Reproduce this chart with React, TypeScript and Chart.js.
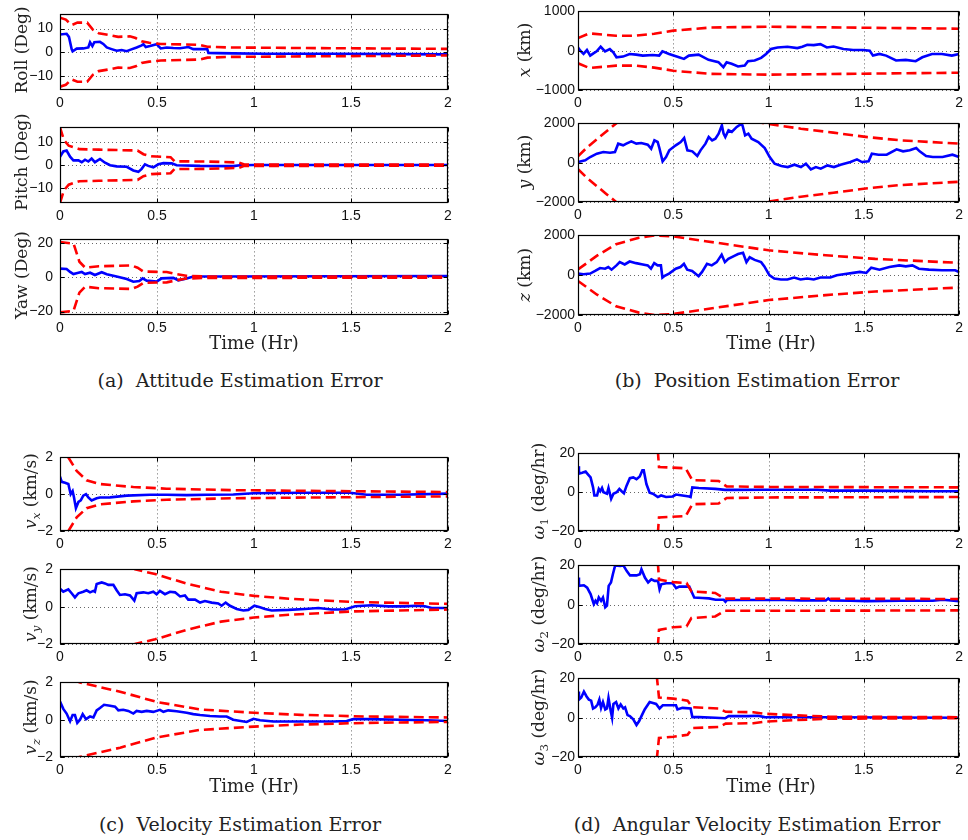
import React, { useEffect, useRef } from 'react';
import { Chart, registerables } from 'chart.js';

Chart.register(...registerables);

type Pt = [number, number];

// ---------------- data ----------------
const timeTicks = [0, 0.5, 1, 1.5, 2];
const rollTicks = [-10, 0, 10];
const yawTicks = [-20, 0, 20];
const posXTicks = [-1000, 0, 1000];
const posYZTicks = [-2000, 0, 2000];
const velTicks = [-2, 0, 2];
const omegaTicks = [-20, 0, 20];

// (a) attitude error [t (hr), deg] and 3-sigma bound
const rollErr: Pt[] = [[0,7.5],[0.034,7.8],[0.046,6.5],[0.06,1.3],[0.065,0.4],[0.086,1.5],[0.12,1.6],[0.146,2],[0.155,4.2],[0.167,2.6],[0.177,4.2],[0.206,4.4],[0.223,3.5],[0.241,2],[0.266,1.3],[0.292,0.6],[0.318,0.9],[0.344,0.4],[0.361,1],[0.395,2],[0.421,2.9],[0.43,3.4],[0.442,2.2],[0.464,2.6],[0.498,3.4],[0.519,1.6],[0.55,2],[0.584,1.8],[0.619,1.7],[0.662,2.2],[0.687,1.3],[0.73,1.3],[0.759,1.3],[0.765,-0.3],[0.808,-0.4],[0.893,-0.5],[1.065,-0.65],[1.409,-0.65],[1.753,-0.8],[2,-0.9]];
const rollSig: Pt[] = [[0,14.6],[0.03,13.8],[0.06,11.5],[0.09,12.5],[0.14,12.5],[0.17,9.5],[0.2,8],[0.25,7.3],[0.3,6.5],[0.36,6.7],[0.39,6],[0.42,4.6],[0.46,4],[0.52,3.5],[0.72,3.1],[0.76,2.3],[0.88,2],[1.2,1.8],[2,1.4]];
const pitchErr: Pt[] = [[0,3.7],[0.017,6],[0.034,6.4],[0.052,3.7],[0.069,2.1],[0.095,2.1],[0.112,1.3],[0.129,2.4],[0.146,1.6],[0.163,2.9],[0.18,1.3],[0.206,2.7],[0.232,1.1],[0.258,0],[0.292,-0.5],[0.344,-0.7],[0.378,-2.3],[0.404,-2.9],[0.421,-1.6],[0.438,0.4],[0.455,-0.3],[0.481,-0.9],[0.507,0.4],[0.533,0.9],[0.576,0.8],[0.601,0],[0.722,-0.3],[0.893,-0.4],[0.928,0],[1,0.1],[2,0.1]];
const pitchSig: Pt[] = [[0,16.5],[0.02,11],[0.045,8.5],[0.1,7],[0.2,6.8],[0.3,6.6],[0.4,6.4],[0.43,4.8],[0.47,3.9],[0.57,3.5],[0.59,1.7],[0.75,1.6],[0.92,1.2],[0.95,0.3],[2,0.25]];
const yawErr: Pt[] = [[0,5],[0.034,4.8],[0.052,3.1],[0.069,1.8],[0.095,2.6],[0.112,3.1],[0.129,1.8],[0.155,2.6],[0.18,1.3],[0.215,2.9],[0.241,1.7],[0.292,0.4],[0.344,-1.1],[0.378,-2.6],[0.409,-2.2],[0.426,-0.7],[0.447,-2],[0.498,-2.6],[0.524,-0.7],[0.584,-0.4],[0.61,-1.8],[0.653,-0.7],[0.687,0.4],[0.808,0.4],[2,0.7]];
const yawSig: Pt[] = [[0,20.5],[0.07,19.5],[0.1,9],[0.13,5.5],[0.2,6.4],[0.37,6.8],[0.4,5.5],[0.43,3.3],[0.55,3],[0.6,1.8],[0.65,0.8],[0.75,0.4],[2,0.3]];

// (b) position error [t, km]
const posXErr: Pt[] = [[0,83],[0.012,0],[0.029,-83],[0.047,17],[0.064,-125],[0.081,-67],[0.098,-17],[0.119,100],[0.142,-17],[0.167,42],[0.185,-42],[0.202,-167],[0.236,-150],[0.271,-83],[0.305,-100],[0.34,-125],[0.392,-108],[0.426,-125],[0.443,-17],[0.478,-83],[0.53,-167],[0.556,-208],[0.582,-125],[0.633,-100],[0.685,-233],[0.737,-292],[0.763,-417],[0.78,-292],[0.806,-333],[0.84,-400],[0.875,-375],[0.892,-267],[0.927,-250],[0.961,-183],[0.987,-83],[1.013,42],[1.047,83],[1.099,100],[1.151,67],[1.177,100],[1.203,150],[1.237,142],[1.272,167],[1.306,83],[1.341,108],[1.393,42],[1.444,17],[1.496,17],[1.531,0],[1.548,-125],[1.582,-83],[1.617,-125],[1.669,-250],[1.72,-233],[1.772,-267],[1.807,-167],[1.858,-83],[1.91,-83],[1.962,-125],[2,-83]];
const posXSig: Pt[] = [[0,320],[0.06,440],[0.2,380],[0.3,380],[0.4,430],[0.5,510],[0.7,590],[1.0,610],[1.4,590],[2,560]];
const posYErr: Pt[] = [[0,34],[0.038,119],[0.064,289],[0.099,459],[0.133,544],[0.168,510],[0.194,544],[0.211,969],[0.237,884],[0.254,969],[0.28,1088],[0.306,969],[0.332,1003],[0.366,918],[0.384,714],[0.401,1139],[0.418,1054],[0.427,748],[0.444,68],[0.462,289],[0.479,629],[0.513,884],[0.539,1054],[0.557,1258],[0.574,629],[0.6,578],[0.626,340],[0.643,629],[0.669,969],[0.686,1309],[0.704,1139],[0.721,1224],[0.738,1479],[0.755,1904],[0.764,1479],[0.773,1309],[0.79,1649],[0.807,1564],[0.833,1819],[0.851,1938],[0.863,1904],[0.877,1394],[0.894,1479],[0.911,1224],[0.946,1054],[0.98,748],[1.006,289],[1.032,-51],[1.067,-170],[1.101,-221],[1.136,-102],[1.17,-221],[1.196,-51],[1.222,-340],[1.248,-221],[1.274,-306],[1.309,-136],[1.343,-221],[1.378,-102],[1.43,34],[1.464,170],[1.49,34],[1.525,68],[1.542,459],[1.577,408],[1.62,408],[1.672,680],[1.706,578],[1.741,629],[1.775,748],[1.793,578],[1.827,340],[1.862,289],[1.913,289],[1.965,408],[2,289]];
const posYSig: Pt[] = [[0,330],[0.05,800],[0.1,1200],[0.15,1600],[0.2,2000],[0.3,2700],[0.5,3000],[0.75,2500],[0.98,2000],[1.17,1730],[1.34,1530],[1.52,1300],[1.69,1140],[2,970]];
const posZErr: Pt[] = [[0,82],[0.029,49],[0.064,82],[0.09,213],[0.116,360],[0.142,328],[0.159,410],[0.176,279],[0.202,492],[0.219,656],[0.245,541],[0.271,688],[0.305,606],[0.34,541],[0.366,492],[0.383,328],[0.4,606],[0.418,492],[0.435,492],[0.443,-115],[0.452,-49],[0.478,82],[0.513,328],[0.538,410],[0.556,574],[0.573,279],[0.599,213],[0.633,-49],[0.651,164],[0.677,574],[0.702,492],[0.728,656],[0.754,1033],[0.771,656],[0.789,820],[0.823,984],[0.84,1066],[0.866,1131],[0.884,656],[0.901,902],[0.927,770],[0.961,656],[0.978,443],[1.004,0],[1.03,-164],[1.065,-213],[1.099,-213],[1.134,-115],[1.168,-213],[1.203,-164],[1.237,-213],[1.272,-115],[1.324,-115],[1.358,0],[1.393,49],[1.444,115],[1.479,164],[1.513,115],[1.539,377],[1.582,279],[1.634,410],[1.686,492],[1.72,443],[1.755,492],[1.789,328],[1.841,279],[1.91,246],[1.979,246],[2,164]];
const posZSig: Pt[] = [[0,290],[0.1,980],[0.2,1560],[0.32,1880],[0.4,2000],[0.5,1950],[0.67,1710],[1.0,1250],[1.3,1000],[1.56,820],[2,620]];

// (c) velocity error [t, km/s]
const velXErr: Pt[] = [[0,0.96],[0.009,0.67],[0.026,0.62],[0.043,0.55],[0.055,0],[0.065,0.17],[0.072,-0.17],[0.082,-0.76],[0.095,-0.42],[0.107,-0.34],[0.12,-0.08],[0.134,0],[0.146,-0.17],[0.163,-0.34],[0.189,-0.22],[0.206,-0.18],[0.258,-0.17],[0.344,-0.08],[0.464,-0.03],[0.55,-0.03],[0.653,-0.05],[0.756,-0.03],[0.893,-0.02],[0.997,0.05],[1.237,0.08],[1.495,0.08],[1.581,-0.03],[1.753,-0.03],[2,0.03]];
const velXSig: Pt[] = [[0,3.6],[0.043,2.0],[0.086,1.26],[0.137,0.76],[0.206,0.55],[0.378,0.39],[0.55,0.3],[0.89,0.22],[1.4,0.17],[2,0.12]];
const velYErr: Pt[] = [[0,0.97],[0.017,0.8],[0.043,0.93],[0.06,0.72],[0.077,0.5],[0.095,0.72],[0.12,0.8],[0.137,0.88],[0.155,0.77],[0.172,0.85],[0.18,0.8],[0.189,1.22],[0.215,1.3],[0.232,1.25],[0.249,1.17],[0.275,1.17],[0.292,0.88],[0.309,0.63],[0.335,0.67],[0.361,0.6],[0.383,0.33],[0.395,0.72],[0.43,0.77],[0.455,0.72],[0.481,0.8],[0.498,0.67],[0.515,0.85],[0.541,0.67],[0.567,0.8],[0.593,0.77],[0.619,0.55],[0.644,0.6],[0.661,0.38],[0.696,0.38],[0.722,0.22],[0.747,0.3],[0.782,0.22],[0.816,0.17],[0.833,0.05],[0.854,0.22],[0.876,0.05],[0.911,-0.12],[0.945,-0.2],[0.971,-0.17],[1.002,0.05],[1.031,-0.03],[1.057,-0.12],[1.091,-0.2],[1.177,-0.17],[1.263,-0.12],[1.332,-0.07],[1.4,-0.15],[1.469,-0.15],[1.521,0.02],[1.607,0.08],[1.692,0.02],[1.778,0.02],[1.83,0.05],[1.881,0.02],[1.916,-0.07],[2,-0.07]];
const velYSig: Pt[] = [[0,6],[0.2,3.2],[0.387,2.0],[0.49,1.75],[0.66,1.22],[0.83,0.8],[1.0,0.58],[1.18,0.43],[1.52,0.25],[2,0.15]];
const velZErr: Pt[] = [[0,0.97],[0.017,0.58],[0.034,0.33],[0.052,-0.08],[0.065,0.25],[0.077,0.25],[0.089,-0.17],[0.103,0],[0.117,0.3],[0.134,0.03],[0.155,0.17],[0.172,0.12],[0.189,0.5],[0.206,0.63],[0.227,0.8],[0.258,0.75],[0.284,0.7],[0.301,0.5],[0.326,0.53],[0.352,0.47],[0.378,0.33],[0.395,0.47],[0.421,0.42],[0.447,0.47],[0.481,0.42],[0.515,0.53],[0.533,0.42],[0.558,0.5],[0.601,0.45],[0.653,0.37],[0.687,0.3],[0.722,0.25],[0.773,0.2],[0.825,0.17],[0.859,0.17],[0.893,0],[0.962,-0.12],[0.997,0.05],[1.031,-0.03],[1.1,-0.1],[1.237,-0.1],[1.409,-0.1],[1.478,-0.07],[1.512,0.03],[1.581,0.03],[1.753,0],[1.89,-0.03],[2,-0.07]];
const velZSig: Pt[] = [[0,2.6],[0.1,2.0],[0.31,1.5],[0.5,0.95],[0.72,0.55],[1.0,0.37],[1.24,0.26],[1.58,0.17],[2,0.12]];

// (d) angular velocity error [t, deg/hr]
const omega1Err: Pt[] = [[0,13.4],[0.005,9.6],[0.022,10],[0.04,10.6],[0.052,9.2],[0.066,7.6],[0.079,2.5],[0.086,-1.7],[0.1,-1.7],[0.109,1.7],[0.117,0.5],[0.126,2.2],[0.134,0],[0.152,-0.8],[0.16,2.2],[0.174,-3.4],[0.186,-0.8],[0.203,0],[0.217,1.7],[0.229,0.5],[0.241,-0.5],[0.255,3.4],[0.272,7.2],[0.29,7.6],[0.307,6.7],[0.324,8.1],[0.338,11.3],[0.345,11.3],[0.359,4.2],[0.376,-0.3],[0.393,-0.8],[0.419,-2.5],[0.436,-1.7],[0.462,-2.5],[0.497,-2.2],[0.514,-1.2],[0.548,-1.7],[0.583,-2.2],[0.591,-2.5],[0.6,2.5],[0.634,2.2],[0.721,1.7],[0.772,1.2],[0.807,1.2],[0.979,1.3],[1.152,1.3],[1.255,1.3],[1.324,0.8],[1.497,0.8],[1.669,0.7],[1.841,0.5],[2,0.5]];
const omega1Sig: Pt[] = [[0.419,21.5],[0.425,13],[0.565,12.3],[0.6,6.2],[0.738,5.8],[0.78,3],[1.0,2.7],[2,2.5]];
const omega2Err: Pt[] = [[0,13.8],[0.005,9.6],[0.031,9.9],[0.048,8.7],[0.066,5.4],[0.083,0.3],[0.092,2],[0.1,0.8],[0.109,3.7],[0.121,2],[0.131,3.7],[0.143,-1.3],[0.152,-0.5],[0.161,9.6],[0.173,11.3],[0.183,15.5],[0.195,20],[0.221,19.7],[0.238,20],[0.256,17.1],[0.273,14.9],[0.307,14.9],[0.325,15.5],[0.333,18],[0.351,13.8],[0.368,11.3],[0.385,12.9],[0.402,12.1],[0.42,12.1],[0.428,7.9],[0.437,10.4],[0.463,10.9],[0.497,10.9],[0.515,8.4],[0.532,9.2],[0.584,9.2],[0.598,6.2],[0.61,3.7],[0.653,3.4],[0.687,3.2],[0.722,2.5],[0.765,2.5],[0.774,1.5],[0.782,2.4],[0.912,2.4],[1.085,2.4],[1.171,2.2],[1.301,2.2],[1.313,3.2],[1.326,2.2],[1.43,2],[1.516,1.8],[1.689,2],[1.862,2],[1.914,2.5],[2,1.8]];
const omega2Sig: Pt[] = [[0.419,21.5],[0.425,12.8],[0.5,11.5],[0.57,11],[0.595,6.8],[0.72,6],[0.77,3.1],[1.0,3.1],[2,2.9]];
const omega3Err: Pt[] = [[0,13.3],[0.005,9.2],[0.017,10.3],[0.031,13.3],[0.045,10.8],[0.057,9.2],[0.069,8.7],[0.079,4.7],[0.091,5.3],[0.103,6.7],[0.112,9.2],[0.121,5],[0.131,8],[0.143,4.2],[0.152,4.7],[0.16,10],[0.172,3.3],[0.179,0],[0.186,7],[0.2,8],[0.212,4.7],[0.224,6.7],[0.238,4.7],[0.247,5.3],[0.26,1.3],[0.272,0.8],[0.29,-0.8],[0.307,-3.7],[0.321,-1.7],[0.333,0.8],[0.35,4.2],[0.376,8],[0.393,7.5],[0.41,7],[0.428,4.7],[0.445,6.3],[0.479,6.3],[0.514,6.3],[0.522,4.2],[0.548,5],[0.591,4.7],[0.6,0.3],[0.634,0.3],[0.721,0],[0.772,-0.3],[0.79,0.8],[0.893,0.8],[0.945,1],[0.979,0.3],[1.152,0.2],[1.324,0.2],[2,0]];
const omega3Sig: Pt[] = [[0.413,21.5],[0.425,10.3],[0.5,9.7],[0.575,8.7],[0.6,5.3],[0.74,4.7],[0.775,3],[0.92,2.8],[0.98,2],[1.15,1.2],[1.32,0.5],[2,0.25]];

// ---------------- layout / styling ----------------
const SANS = '"Liberation Sans", Arial, Helvetica, sans-serif';
const SERIF = '"DejaVu Serif", "Liberation Serif", serif';
const RED = '#ff0000';
const BLUE = '#0000ff';
const Y_AXIS_W = 58;
const TOP_PAD = 10;
const X_AXIS_H = 24;

interface Spec {
  err: Pt[];
  sig: Pt[];
  yMin: number;
  yMax: number;
  yTicks: number[];
  left: number;
  top: number;
  width: number;
  height: number;
  yPad: number;
  rightPad: number;
}

const fmt = (v: number) => (v < 0 ? '\u2212' + String(Math.abs(v)) : String(v));
const toXY = (pts: Pt[], sign = 1) => pts.map(([x, y]) => ({ x, y: sign * y }));

const framePlugin = {
  id: 'matlabFrame',
  beforeDatasetsDraw(chart: any) {
    const { ctx, chartArea: a, scales } = chart;
    const xs = scales.x;
    const ys = scales.y;
    ctx.save();
    ctx.strokeStyle = 'rgba(0,0,0,0.6)';
    ctx.lineWidth = 1;
    ctx.setLineDash([1, 3]);
    xs.ticks.forEach((t: any) => {
      const px = Math.round(xs.getPixelForValue(t.value)) + 0.5;
      ctx.beginPath();
      ctx.moveTo(px, a.top);
      ctx.lineTo(px, a.bottom);
      ctx.stroke();
    });
    ys.ticks.forEach((t: any) => {
      const py = Math.round(ys.getPixelForValue(t.value)) + 0.5;
      ctx.beginPath();
      ctx.moveTo(a.left, py);
      ctx.lineTo(a.right, py);
      ctx.stroke();
    });
    ctx.restore();
  },
  afterDatasetsDraw(chart: any) {
    const { ctx, chartArea: a, scales } = chart;
    const xs = scales.x;
    const ys = scales.y;
    const l = Math.round(a.left) + 0.5;
    const r = Math.round(a.right) - 0.5;
    const t = Math.round(a.top) + 0.5;
    const b = Math.round(a.bottom) - 0.5;
    ctx.save();
    ctx.setLineDash([]);
    ctx.strokeStyle = '#000';
    ctx.lineWidth = 1.2;
    ctx.strokeRect(l, t, r - l, b - t);
    ctx.lineWidth = 1;
    const len = 4;
    xs.ticks.forEach((tk: any) => {
      const px = Math.round(xs.getPixelForValue(tk.value)) + 0.5;
      ctx.beginPath();
      ctx.moveTo(px, b);
      ctx.lineTo(px, b - len);
      ctx.moveTo(px, t);
      ctx.lineTo(px, t + len);
      ctx.stroke();
    });
    ys.ticks.forEach((tk: any) => {
      const py = Math.round(ys.getPixelForValue(tk.value)) + 0.5;
      ctx.beginPath();
      ctx.moveTo(l, py);
      ctx.lineTo(l + len, py);
      ctx.moveTo(r, py);
      ctx.lineTo(r - len, py);
      ctx.stroke();
    });
    ctx.restore();
  },
};

function SubPlot({ spec }: { spec: Spec }) {
  const ref = useRef<HTMLCanvasElement>(null);
  const cw = Y_AXIS_W + spec.width + spec.rightPad;
  const ch = TOP_PAD + spec.height + X_AXIS_H;
  useEffect(() => {
    const canvas = ref.current;
    if (!canvas) return;
    const bound = {
      borderColor: RED,
      borderWidth: 2.6,
      borderDash: [10, 5],
      pointRadius: 0,
      fill: false,
      tension: 0,
    };
    const chart = new Chart(canvas, {
      type: 'line',
      data: {
        datasets: [
          { ...bound, data: toXY(spec.sig) },
          { ...bound, data: toXY(spec.sig, -1) },
          {
            data: toXY(spec.err),
            borderColor: BLUE,
            borderWidth: 2.6,
            pointRadius: 0,
            fill: false,
            tension: 0,
          },
        ],
      },
      options: {
        animation: false,
        responsive: false,
        maintainAspectRatio: false,
        devicePixelRatio: 1,
        events: [],
        layout: { padding: { left: 0, top: TOP_PAD, right: spec.rightPad, bottom: 0 } },
        plugins: { legend: { display: false }, tooltip: { enabled: false }, title: { display: false } },
        scales: {
          x: {
            type: 'linear',
            min: 0,
            max: 2,
            afterBuildTicks: (s: any) => {
              s.ticks = timeTicks.map((v) => ({ value: v }));
            },
            afterFit: (s: any) => {
              s.height = X_AXIS_H;
            },
            grid: { display: false, drawTicks: false },
            border: { display: false },
            ticks: {
              autoSkip: false,
              maxRotation: 0,
              minRotation: 0,
              padding: 5,
              color: '#111',
              font: { family: SANS, size: 14 },
              callback: (v: any) => fmt(Number(v)),
            },
          },
          y: {
            type: 'linear',
            min: spec.yMin,
            max: spec.yMax,
            afterBuildTicks: (s: any) => {
              s.ticks = spec.yTicks.map((v) => ({ value: v }));
            },
            afterFit: (s: any) => {
              s.width = Y_AXIS_W;
            },
            grid: { display: false, drawTicks: false },
            border: { display: false },
            ticks: {
              autoSkip: false,
              padding: spec.yPad,
              color: '#111',
              font: { family: SANS, size: 14 },
              callback: (v: any) => fmt(Number(v)),
            },
          },
        },
      },
      plugins: [framePlugin],
    } as any);
    return () => chart.destroy();
  }, [spec]);
  return (
    <canvas
      ref={ref}
      width={cw}
      height={ch}
      style={{
        position: 'absolute',
        left: spec.left - Y_AXIS_W,
        top: spec.top - TOP_PAD,
        width: cw,
        height: ch,
      }}
    />
  );
}

const colA = { left: 60, width: 388, yPad: 7, rightPad: 12 };
const colB = { left: 578, width: 386, yPad: 3, rightPad: 4 };

const specs: Spec[] = [
  { ...colA, top: 9, height: 81, err: rollErr, sig: rollSig, yMin: -16, yMax: 16, yTicks: rollTicks },
  { ...colA, top: 122, height: 81, err: pitchErr, sig: pitchSig, yMin: -16.5, yMax: 16.5, yTicks: rollTicks },
  { ...colA, top: 234, height: 81, err: yawErr, sig: yawSig, yMin: -22, yMax: 22, yTicks: yawTicks },
  { ...colB, top: 10, height: 80, err: posXErr, sig: posXSig, yMin: -1000, yMax: 1000, yTicks: posXTicks },
  { ...colB, top: 122, height: 80, err: posYErr, sig: posYSig, yMin: -2000, yMax: 2000, yTicks: posYZTicks },
  { ...colB, top: 234, height: 81, err: posZErr, sig: posZSig, yMin: -2000, yMax: 2000, yTicks: posYZTicks },
  { ...colA, top: 452, height: 79, err: velXErr, sig: velXSig, yMin: -2, yMax: 2, yTicks: velTicks },
  { ...colA, top: 564, height: 80, err: velYErr, sig: velYSig, yMin: -2, yMax: 2, yTicks: velTicks },
  { ...colA, top: 677, height: 80, err: velZErr, sig: velZSig, yMin: -2, yMax: 2, yTicks: velTicks },
  { ...colB, top: 452, height: 79, err: omega1Err, sig: omega1Sig, yMin: -20, yMax: 20, yTicks: omegaTicks },
  { ...colB, top: 564, height: 80, err: omega2Err, sig: omega2Sig, yMin: -20, yMax: 20, yTicks: omegaTicks },
  { ...colB, top: 677, height: 80, err: omega3Err, sig: omega3Sig, yMin: -20, yMax: 20, yTicks: omegaTicks },
];

function YLabel({ x, y, children }: { x: number; y: number; children: React.ReactNode }) {
  return (
    <div
      style={{
        position: 'absolute',
        left: x,
        top: y,
        transform: 'translate(-50%, -50%) rotate(-90deg)',
        whiteSpace: 'nowrap',
        fontFamily: SERIF,
        fontSize: 17,
        lineHeight: '17px',
        color: '#222',
      }}
    >
      {children}
    </div>
  );
}

function CText({ x, baseline, size, children }: { x: number; baseline: number; size: number; children: React.ReactNode }) {
  return (
    <div
      style={{
        position: 'absolute',
        left: x,
        top: baseline - size * 0.846,
        transform: 'translateX(-50%)',
        whiteSpace: 'nowrap',
        fontFamily: SERIF,
        fontSize: size,
        lineHeight: `${size}px`,
        color: '#222',
      }}
    >
      {children}
    </div>
  );
}

const sub: React.CSSProperties = { fontSize: '0.7em', position: 'relative', top: '0.3em' };

export default function App() {
  return (
    <div
      style={{
        position: 'absolute',
        left: 0,
        top: 0,
        width: 968,
        height: 840,
        overflow: 'hidden',
        background: '#fff',
      }}
    >
      {specs.map((s, i) => (
        <SubPlot key={i} spec={s} />
      ))}

      <YLabel x={21} y={50}>Roll (Deg)</YLabel>
      <YLabel x={21} y={162}>Pitch (Deg)</YLabel>
      <YLabel x={21} y={275}>Yaw (Deg)</YLabel>

      <YLabel x={524} y={50}><i>x</i> (km)</YLabel>
      <YLabel x={524} y={162}><i>y</i> (km)</YLabel>
      <YLabel x={524} y={275}><i>z</i> (km)</YLabel>

      <YLabel x={31} y={491}><i>v</i><span style={sub}><i>x</i></span> (km/s)</YLabel>
      <YLabel x={31} y={604}><i>v</i><span style={sub}><i>y</i></span> (km/s)</YLabel>
      <YLabel x={31} y={717}><i>v</i><span style={sub}><i>z</i></span> (km/s)</YLabel>

      <YLabel x={539} y={491}><i>ω</i><span style={sub}>1</span> (deg/hr)</YLabel>
      <YLabel x={539} y={604}><i>ω</i><span style={sub}>2</span> (deg/hr)</YLabel>
      <YLabel x={539} y={717}><i>ω</i><span style={sub}>3</span> (deg/hr)</YLabel>

      <CText x={254} baseline={349} size={18}>Time (Hr)</CText>
      <CText x={771} baseline={349} size={18}>Time (Hr)</CText>
      <CText x={254} baseline={792} size={18}>Time (Hr)</CText>
      <CText x={771} baseline={792} size={18}>Time (Hr)</CText>

      <CText x={240} baseline={387} size={19}>(a)&nbsp; Attitude Estimation Error</CText>
      <CText x={757} baseline={387} size={19}>(b)&nbsp; Position Estimation Error</CText>
      <CText x={240} baseline={831} size={19}>(c)&nbsp; Velocity Estimation Error</CText>
      <CText x={757} baseline={831} size={19}>(d)&nbsp; Angular Velocity Estimation Error</CText>
    </div>
  );
}
